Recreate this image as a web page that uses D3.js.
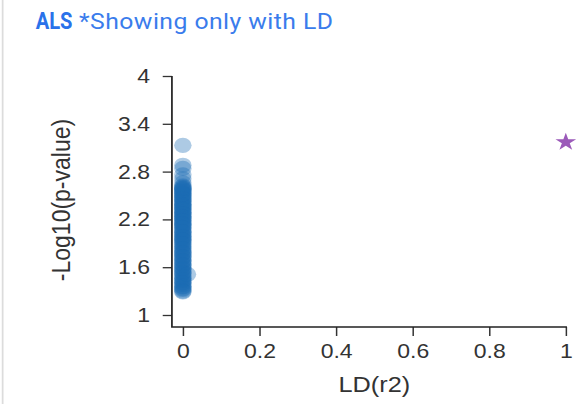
<!DOCTYPE html>
<html>
<head>
<meta charset="utf-8">
<script src="https://cdn.jsdelivr.net/npm/d3@7"></script>
<style>
  body { margin: 0; background: #fff; }
  svg { display: block; }
</style>
</head>
<body>
<div id="chart"></div>
<script>
// title bits
const traitName = "ALS";
const subTitle = "*Showing only with LD";

// ticks
const yTicks = [1, 1.6, 2.2, 2.8, 3.4, 4];
const xTicks = [0, 0.2, 0.4, 0.6, 0.8, 1];

// snps with LD to the lead (r2, -log10 p)
const ldValues = [
  0, 0, 0, 0, 0, 0, 0, 0, 0, 0,
  0, 0, 0, 0, 0, 0, 0, 0, 0, 0,
  0, 0, 0, 0, 0, 0, 0, 0, 0, 0,
  0, 0, 0, 0, 0, 0, 0, 0, 0, 0,
  0, 0, 0, 0, 0, 0, 0, 0, 0, 0,
  0, 0, 0, 0, 0, 0, 0, 0, 0, 0,
  0, 0, 0, 0, 0, 0, 0, 0, 0, 0,
  0, 0, 0, 0, 0, 0, 0, 0, 0, 0,
  0, 0, 0, 0, 0, 0, 0, 0, 0, 0,
  0, 0, 0, 0, 0, 0, 0, 0, 0, 0,
  0.012
];
const pValues = [
  3.13, 2.88, 2.84, 2.76, 2.71, 2.66, 2.62, 2.61, 2.59, 2.58,
  2.56, 2.55, 2.53, 2.51, 2.50, 2.48, 2.47, 2.45, 2.43, 2.41,
  2.39, 2.38, 2.36, 2.35, 2.33, 2.31, 2.29, 2.28, 2.26, 2.24,
  2.22, 2.21, 2.19, 2.17, 2.15, 2.13, 2.12, 2.10, 2.07, 2.05,
  2.03, 2.01, 1.99, 1.97, 1.95, 1.93, 1.91, 1.88, 1.86, 1.84,
  1.81, 1.79, 1.77, 1.74, 1.72, 1.69, 1.67, 1.64, 1.62, 1.59,
  1.57, 1.54, 1.52, 1.49, 1.46, 1.43, 1.41, 1.38, 1.35, 1.32,
  2.60, 2.57, 2.52, 2.46, 2.42, 2.37, 2.32, 2.27, 2.23, 2.18,
  2.14, 2.09, 2.04, 1.98, 1.94, 1.89, 1.83, 1.78, 1.73, 1.68,
  1.63, 1.58, 1.53, 1.48, 1.44, 1.40, 1.36, 1.33, 1.30, 1.29,
  1.51
];
// lead snp
const leadLD = [1];
const leadP = [3.17];

const W = 577, H = 404;
const sx = 1.15;           // picture is a bit wider than tall
const vw = W / sx;

const x = d3.scaleLinear().domain([0, 1]).range([159, 492]);
const y = d3.scaleLinear().domain([1, 4]).range([315, 76]);
const axisX = 149.5, axisY = 327;

const svg = d3.select("#chart").append("svg")
  .attr("width", W)
  .attr("height", H)
  .attr("viewBox", [0, 0, vw, H])
  .attr("preserveAspectRatio", "none");

// card border on the left
svg.append("line")
  .attr("x1", 2.3).attr("x2", 2.3)
  .attr("y1", 0).attr("y2", H)
  .attr("stroke", "#dcdcdc")
  .attr("stroke-width", 1.5);

svg.append("text")
  .attr("x", 31)
  .attr("y", 29)
  .attr("textLength", 32)
  .attr("lengthAdjust", "spacingAndGlyphs")
  .style("font-family", "Roboto, 'Liberation Sans', sans-serif")
  .style("font-size", "23px")
  .style("font-weight", "bold")
  .attr("fill", "#2a72ea")
  .text(traitName);
svg.append("text")
  .attr("x", 68.7)
  .attr("y", 29)
  .style("font-family", "Roboto, 'Liberation Sans', sans-serif")
  .style("font-size", "21.5px")
  .style("letter-spacing", "0.4px")
  .attr("fill", "#3a7cec")
  .text(subTitle);

// points
const pts = ldValues.map((d, i) => ({ ld: d, p: pValues[i] }));
svg.append("g")
  .selectAll("circle")
  .data(pts)
  .join("circle")
  .attr("cx", d => x(d.ld))
  .attr("cy", d => y(d.p))
  .attr("r", 7.6)
  .attr("fill", "#1c6cb5")
  .attr("fill-opacity", 0.36);

svg.append("g")
  .selectAll("path")
  .data(leadLD.map((d, i) => ({ ld: d, p: leadP[i] })))
  .join("path")
  .attr("d", d3.symbol(d3.symbolStar, 100))
  .attr("transform", d => `translate(${x(d.ld)},${y(d.p)})`)
  .attr("fill", "#9b5ab9");

// axes
const yAxis = svg.append("g")
  .attr("transform", `translate(${axisX},0)`)
  .call(d3.axisLeft(y).tickValues(yTicks).tickFormat(d3.format("")).tickSize(8).tickPadding(11));
const xAxis = svg.append("g")
  .attr("transform", `translate(0,${axisY})`)
  .call(d3.axisBottom(x).tickValues(xTicks).tickFormat(d3.format("")).tickSize(9).tickPadding(8));

[yAxis, xAxis].forEach(g => {
  g.select(".domain").remove();
  g.selectAll("text")
    .style("font-family", "'Liberation Sans', Arial, sans-serif")
    .style("font-size", "20px")
    .attr("fill", "#333");
  g.selectAll("line").attr("stroke", "#333").attr("stroke-width", 1.3);
});

svg.append("path")
  .attr("d", `M${axisX},${y(4)}V${axisY}H${x(1) + 1}`)
  .attr("fill", "none")
  .attr("stroke", "#222")
  .attr("stroke-width", 1.5);

svg.append("text")
  .attr("x", (x(0) + x(1)) / 2)
  .attr("y", 392)
  .attr("text-anchor", "middle")
  .style("font-family", "'Liberation Sans', Arial, sans-serif")
  .style("font-size", "22px")
  .attr("fill", "#333")
  .text("LD(r2)");

svg.append("text")
  .attr("transform", `translate(61,200) rotate(-90)`)
  .attr("text-anchor", "middle")
  .style("font-family", "'Liberation Sans', Arial, sans-serif")
  .style("font-size", "23px")
  .attr("fill", "#333")
  .text("-Log10(p-value)");
</script>
</body>
</html>
